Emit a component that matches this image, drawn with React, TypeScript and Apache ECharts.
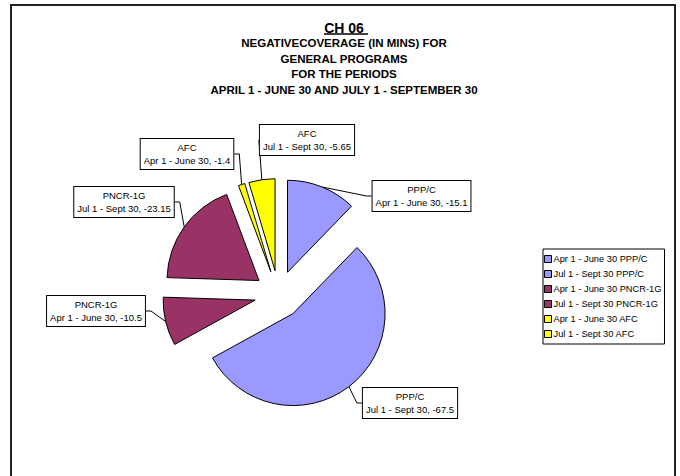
import React, { useEffect, useRef } from 'react';
import * as echarts from 'echarts';

const programs = ['PPP/C', 'PPP/C', 'PNCR-1G', 'PNCR-1G', 'AFC', 'AFC'];
const periods = [
  'Apr 1 - June 30',
  'Jul 1 - Sept 30',
  'Apr 1 - June 30',
  'Jul 1 - Sept 30',
  'Apr 1 - June 30',
  'Jul 1 - Sept 30',
];
const coverage = [-15.1, -67.5, -10.5, -23.15, -1.4, -5.65];
const programColors: Record<string, string> = {
  'PPP/C': '#9999FF',
  'PNCR-1G': '#993366',
  AFC: '#FFFF00',
};
const titleMain = 'CH 06';
const titleLines = [
  'NEGATIVECOVERAGE (IN MINS) FOR',
  'GENERAL PROGRAMS',
  'FOR THE PERIODS',
  'APRIL 1 - JUNE 30 AND JULY 1 - SEPTEMBER 30',
];
// centres of the data-label boxes (layout, as placed in the original chart)
const labelCenters = [
  [421.5, 196],
  [410, 403],
  [96, 311],
  [124, 202],
  [187, 154],
  [307, 140],
];

const PIE_CX = 278.5;
const PIE_CY = 294.5;
const PIE_R = 92;
const EXPLODE = 24;

export default function App() {
  const ref = useRef<HTMLDivElement>(null);
  useEffect(() => {
    const chart = echarts.init(ref.current!, null, { renderer: 'svg' });
    const font = "'Liberation Sans', Arial, sans-serif";
    const names = coverage.map((_, i) => `${periods[i]} ${programs[i]}`);
    const total = coverage.reduce((s, v) => s + Math.abs(v), 0);
    // mid angle of each slice (clockwise from 12 o'clock), for the exploded offset
    let acc = 0;
    const mids = coverage.map((v) => {
      const a = Math.abs(v);
      const m = ((acc + a / 2) / total) * Math.PI * 2;
      acc += a;
      return m;
    });

    const labelOpt = {
      show: true,
      position: 'outside',
      formatter: (p: any) =>
        `${programs[p.dataIndex]}\n${periods[p.dataIndex]}, ${coverage[p.dataIndex]}`,
      fontFamily: font,
      fontSize: 9.5,
      lineHeight: 13,
      color: '#000',
      backgroundColor: '#fff',
      borderColor: '#000',
      borderWidth: 1,
      padding: [2, 3, 2, 3],
      align: 'center',
    };

    const series = coverage.map((_, k) => ({
      type: 'pie',
      name: `slice-${k}`,
      center: [PIE_CX + EXPLODE * Math.sin(mids[k]), PIE_CY - EXPLODE * Math.cos(mids[k])],
      radius: PIE_R,
      startAngle: 90,
      clockwise: true,
      avoidLabelOverlap: false,
      silent: true,
      legendHoverLink: false,
      emphasis: { disabled: true },
      label: labelOpt,
      labelLine: {
        show: true,
        length: 10,
        length2: 5,
        lineStyle: { color: '#000', width: 1 },
      },
      labelLayout: (p: any) => ({
        x: labelCenters[p.dataIndex][0],
        y: labelCenters[p.dataIndex][1],
        align: 'center',
        verticalAlign: 'middle',
      }),
      data: coverage.map((v, i) => ({
        name: names[i],
        value: Math.abs(v),
        itemStyle:
          i === k
            ? { color: programColors[programs[i]], borderColor: '#000', borderWidth: 1 }
            : { color: 'rgba(0,0,0,0)', borderWidth: 0 },
        label: { show: i === k },
        labelLine: { show: i === k },
      })),
    }));

    chart.setOption({
      animation: false,
      backgroundColor: '#ffffff',
      title: [
        {
          text: titleMain,
          left: 344,
          top: 19,
          textAlign: 'center',
          padding: 0,
          textStyle: { fontFamily: font, fontSize: 14, fontWeight: 'bold', color: '#000', lineHeight: 17 },
        },
        {
          text: titleLines.join('\n'),
          left: 344,
          top: 35,
          textAlign: 'center',
          padding: 0,
          textStyle: { fontFamily: font, fontSize: 11.5, fontWeight: 'bold', color: '#000', lineHeight: 15.7 },
        },
      ],
      legend: {
        orient: 'vertical',
        left: 543,
        top: 249,
        itemWidth: 7,
        itemHeight: 7,
        itemGap: 3,
        padding: [4, 3, 4, 1],
        borderColor: '#000',
        borderWidth: 1,
        icon: 'rect',
        selectedMode: false,
        textStyle: { fontFamily: font, fontSize: 9.3, color: '#000', lineHeight: 12, padding: [0, 0, 0, -3] },
        data: names.map((n, i) => ({
          name: n,
          itemStyle: { color: programColors[programs[i]], borderColor: '#000', borderWidth: 1 },
        })),
      },
      graphic: [
        {
          type: 'rect',
          shape: { x: 11, y: 5, width: 664, height: 600 },
          style: { fill: 'none', stroke: '#222', lineWidth: 2 },
          silent: true,
        },
        {
          type: 'line',
          shape: { x1: 324, y1: 34, x2: 368, y2: 34 },
          style: { stroke: '#000', lineWidth: 1.3 },
          silent: true,
        },
      ],
      series,
    });
    return () => chart.dispose();
  }, []);
  return (
    <div
      ref={ref}
      style={{ position: 'absolute', left: 0, top: 0, width: 680, height: 476 }}
    />
  );
}
